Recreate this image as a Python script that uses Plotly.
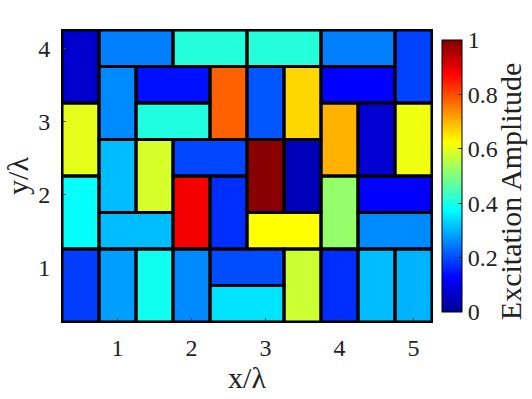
import numpy as np
import plotly.graph_objects as go

# tiles on the half-wavelength grid: left column, bottom row, orientation, amplitude
tile_col = [0, 1, 3, 5, 7, 9, 1, 2, 4, 5, 6, 7, 0, 2, 7, 8, 9, 1, 2, 3,
            5, 6, 0, 3, 4, 7, 8, 1, 5, 8, 0, 1, 2, 3, 4, 4, 6, 7, 8, 9]
tile_row = [6, 7, 7, 7, 7, 6, 5, 6, 5, 5, 5, 6, 4, 5, 4, 4, 4, 3, 3, 4,
            3, 3, 2, 2, 2, 2, 3, 2, 2, 2, 0, 0, 0, 0, 1, 0, 0, 0, 0, 0]
tile_dir = ["v", "h", "h", "h", "h", "v", "v", "h", "v", "v", "v", "h", "v", "h", "v", "v", "v", "v", "v", "h",
            "v", "v", "v", "v", "v", "v", "h", "h", "h", "h", "v", "v", "v", "v", "h", "h", "v", "v", "v", "v"]
tile_amp = [0.07, 0.25, 0.41, 0.41, 0.25, 0.19, 0.26, 0.14, 0.78, 0.21,
            0.665, 0.125, 0.60, 0.405, 0.70, 0.075, 0.61, 0.31, 0.585, 0.195,
            0.99, 0.047, 0.38, 0.885, 0.17, 0.52, 0.125, 0.31, 0.625, 0.26,
            0.185, 0.28, 0.39, 0.26, 0.20, 0.35, 0.575, 0.17, 0.31, 0.30]

cell = 0.5          # grid pitch in wavelengths
n_cols, n_rows = 10, 8
x_ticks = [1, 2, 3, 4, 5]
y_ticks = [1, 2, 3, 4]
cbar_ticks = [0, 0.2, 0.4, 0.6, 0.8, 1]
cbar_labels = ["0", "0.2", "0.4", "0.6", "0.8", "1"]

jet = [[0.0, "rgb(0,0,143)"], [0.125, "rgb(0,0,255)"], [0.375, "rgb(0,255,255)"],
       [0.625, "rgb(255,255,0)"], [0.875, "rgb(255,0,0)"], [1.0, "rgb(128,0,0)"]]

# fill the cell grid from the tiles
z = np.zeros((n_rows, n_cols))
spans = []
for c, r, d, a in zip(tile_col, tile_row, tile_dir, tile_amp):
    w, h = (2, 1) if d == "h" else (1, 2)
    z[r:r + h, c:c + w] = a
    spans.append((c, r, w, h))

x_c = cell * (np.arange(n_cols) + 1)
y_c = cell * (np.arange(n_rows) + 1)
x0 = x_c[0] - cell / 2

font = "Times New Roman"

fig = go.Figure(go.Heatmap(
    x=x_c, y=y_c, z=z,
    zmin=0, zmax=1, colorscale=jet,
    colorbar=dict(
        x=1.027, xanchor="left", xpad=0, y=0.5, len=1, thickness=20,
        outlinecolor="black", outlinewidth=1,
        tickvals=cbar_ticks, ticktext=cbar_labels,
        ticks="inside", ticklen=4, tickcolor="#333",
        tickfont=dict(family=font, size=24, color="#222"),
    ),
    hovertemplate="x=%{x}, y=%{y}: %{z:.2f}<extra></extra>",
))

# black outline around each tile
for c, r, w, h in spans:
    fig.add_shape(type="rect", xref="x", yref="y",
                  x0=x0 + c * cell, x1=x0 + (c + w) * cell,
                  y0=x0 + r * cell, y1=x0 + (r + h) * cell,
                  line=dict(color="black", width=3))

# colorbar label, sits a bit below centre like the original
fig.add_annotation(text="Excitation Amplitude", xref="paper", yref="paper",
                   x=1.211, y=0.445, xanchor="center", yanchor="middle",
                   textangle=-90, showarrow=False,
                   font=dict(family=font, size=30, color="#222"))

fig.update_layout(
    width=532, height=399,
    paper_bgcolor="white", plot_bgcolor="white",
    margin=dict(l=62, r=100, t=30, b=77, autoexpand=False),
    font=dict(family=font, color="#222"),
    xaxis=dict(range=[x0, x0 + n_cols * cell], tickvals=x_ticks,
               ticks="inside", ticklen=4, tickcolor="#444",
               showline=True, linecolor="black", linewidth=1, mirror=True,
               showgrid=False, zeroline=False, ticklabelstandoff=4,
               tickfont=dict(size=24), automargin=False,
               title=dict(text="x/λ", font=dict(size=30), standoff=4)),
    yaxis=dict(range=[x0, x0 + n_rows * cell], tickvals=y_ticks,
               ticks="inside", ticklen=4, tickcolor="#444",
               showline=True, linecolor="black", linewidth=1, mirror=True,
               showgrid=False, zeroline=False, ticklabelstandoff=6,
               tickfont=dict(size=24), automargin=False,
               title=dict(text="y/λ", font=dict(size=30), standoff=0)),
)

fig.write_html("out.html", config={"displayModeBar": False},
               post_script="document.body.style.margin='0';")
